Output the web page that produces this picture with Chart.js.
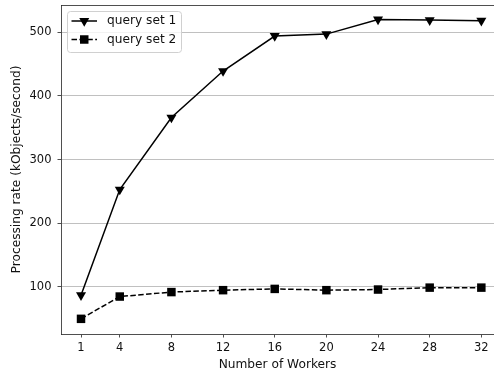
<!DOCTYPE html>
<html><head><meta charset="utf-8">
<script src="https://cdn.jsdelivr.net/npm/chart.js@4"></script>
<style>html,body{margin:0;padding:0;background:#fff}#wrap{width:494px;height:374px}</style>
</head><body><div id="wrap"><canvas id="c" width="494" height="374"></canvas></div>
<script>
const workers = [1, 4, 8, 12, 16, 20, 24, 28, 32];
const querySet1 = [87, 253, 366, 439, 494, 497, 520, 519, 518];
const querySet2 = [50, 85, 92, 95, 97, 95, 96, 99, 99];
const seriesNames = ['query set 1', 'query set 2'];
const yTickValues = [100, 200, 300, 400, 500];

const FAMILY = "'DejaVu Sans', sans-serif";
const TXT = '#111';

const topBorder = {
  id: 'topBorder',
  afterDraw(chart) {
    const {ctx, chartArea} = chart;
    ctx.save();
    ctx.strokeStyle = '#222';
    ctx.lineWidth = 0.8;
    ctx.beginPath();
    ctx.moveTo(chartArea.left, chartArea.top + 0.5);
    ctx.lineTo(chartArea.right, chartArea.top + 0.5);
    ctx.stroke();
    ctx.restore();
  }
};

const legendBox = {
  id: 'legendBox',
  afterDraw(chart) {
    const {ctx, chartArea} = chart;
    const x0 = chartArea.left + 6, y0 = chartArea.top + 6, w = 114, h = 41;
    ctx.save();
    ctx.fillStyle = 'rgba(255,255,255,0.8)';
    ctx.strokeStyle = '#d0d0d0';
    ctx.lineWidth = 1;
    ctx.beginPath();
    ctx.roundRect(x0 + 0.5, y0 + 0.5, w, h, 3);
    ctx.fill();
    ctx.stroke();
    chart.data.datasets.forEach((ds, i) => {
      const cy = y0 + 10 + i * 18.5;
      const lx0 = x0 + 4.5, lx1 = x0 + 30;
      ctx.strokeStyle = ds.borderColor;
      ctx.lineWidth = ds.borderWidth;
      ctx.setLineDash(ds.borderDash || []);
      ctx.beginPath();
      ctx.moveTo(lx0, cy);
      ctx.lineTo(lx1, cy);
      ctx.stroke();
      ctx.setLineDash([]);
      ctx.fillStyle = ds.pointBackgroundColor;
      Chart.helpers.drawPoint(ctx, {pointStyle: ds.pointStyle, rotation: ds.pointRotation || 0, radius: ds.pointRadius, borderWidth: 0}, (lx0 + lx1) / 2, cy);
      ctx.fillStyle = TXT;
      ctx.font = '12.2px ' + FAMILY;
      ctx.textBaseline = 'middle';
      ctx.textAlign = 'left';
      ctx.fillText(ds.label, x0 + 40, cy);
    });
    ctx.restore();
  }
};

const tickFont = {family: FAMILY, size: 11.5};
const titleFont = {family: FAMILY, size: 12.2};

new Chart(document.getElementById('c'), {
  type: 'line',
  data: {
    datasets: [
      {
        label: seriesNames[0],
        data: workers.map((w, i) => ({x: w, y: querySet1[i]})),
        borderColor: '#000', backgroundColor: '#000', pointBackgroundColor: '#000',
        borderWidth: 1.5, pointStyle: 'triangle', pointRotation: 180,
        pointRadius: 5.8, pointBorderWidth: 0, tension: 0, fill: false
      },
      {
        label: seriesNames[1],
        data: workers.map((w, i) => ({x: w, y: querySet2[i]})),
        borderColor: '#000', backgroundColor: '#000', pointBackgroundColor: '#000',
        borderWidth: 1.5, borderDash: [5.5, 2.4], pointStyle: 'rect',
        pointRadius: 6, pointBorderWidth: 0, tension: 0, fill: false
      }
    ]
  },
  options: {
    responsive: false, animation: false, devicePixelRatio: 1,
    layout: {autoPadding: false, padding: {top: 5, right: 0, left: 0, bottom: 0}},
    plugins: {legend: {display: false}, tooltip: {enabled: false}},
    scales: {
      x: {
        type: 'linear', min: -0.55, max: 32.98,
        afterBuildTicks: s => { s.ticks = workers.map(v => ({value: v})); },
        afterFit: s => { s.height = 40; s.paddingLeft = 0; s.paddingRight = 0; },
        grid: {drawOnChartArea: false, drawTicks: true, tickLength: 3.5, tickColor: '#222', tickWidth: 0.8},
        border: {color: '#222', width: 0.8},
        ticks: {font: tickFont, color: TXT, padding: 4, maxRotation: 0, autoSkip: false},
        title: {display: true, text: 'Number of Workers', font: titleFont, color: TXT, padding: {top: 0, bottom: 1.7}}
      },
      y: {
        type: 'linear', min: 26.2, max: 542.7,
        afterBuildTicks: s => { s.ticks = yTickValues.map(v => ({value: v})); },
        afterFit: s => { s.width = 61; s.paddingTop = 0; s.paddingBottom = 0; },
        grid: {color: '#b0b0b0', lineWidth: 0.8, drawTicks: true, tickLength: 3.5, tickColor: '#222', tickWidth: 0.8},
        border: {color: '#222', width: 0.8},
        ticks: {font: tickFont, color: TXT, padding: 6},
        title: {display: true, text: 'Processing rate (kObjects/second)', font: titleFont, color: TXT, padding: {top: 10, bottom: 0}}
      }
    }
  },
  plugins: [topBorder, legendBox]
});
</script>
</body></html>
